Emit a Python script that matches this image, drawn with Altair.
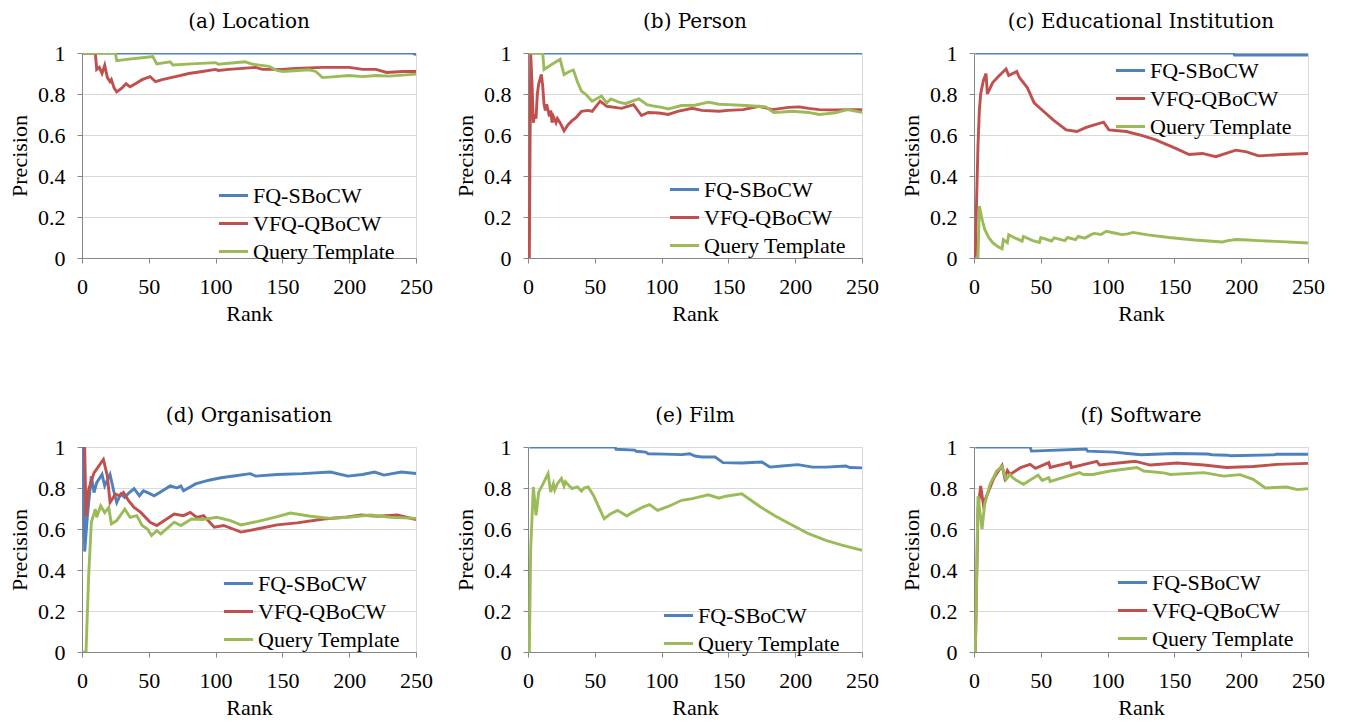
import altair as alt
import pandas as pd

SERIES = ["FQ-SBoCW", "VFQ-QBoCW", "Query Template"]
COLORS = ["#4F81BD", "#C0504D", "#9BBB59"]
TITLES = ["(a) Location", "(b) Person", "(c) Educational Institution",
          "(d) Organisation", "(e) Film", "(f) Software"]
X_TICKS = [0, 50, 100, 150, 200, 250]
Y_TICKS = [0, 0.2, 0.4, 0.6, 0.8, 1]

# (a) Location
A_FQ_RANK = [1, 247, 250]
A_FQ_PREC = [1, 1, 0.992]
A_VFQ_RANK = [1, 10, 11, 13, 15, 17, 19, 21, 22, 24, 26, 30, 33, 36, 40, 45, 51, 55, 60, 70, 80, 90, 100, 102, 110, 120, 130, 135, 150, 160, 180, 200, 210, 220, 228, 240, 250]
A_VFQ_PREC = [1, 1, 0.92, 0.93, 0.9, 0.94, 0.88, 0.86, 0.87, 0.83, 0.81, 0.83, 0.85, 0.835, 0.85, 0.87, 0.885, 0.86, 0.87, 0.885, 0.9, 0.91, 0.92, 0.915, 0.92, 0.925, 0.93, 0.92, 0.92, 0.925, 0.93, 0.93, 0.92, 0.92, 0.905, 0.91, 0.91]
A_QT_RANK = [1, 25, 26, 35, 45, 53, 56, 66, 68, 82, 100, 102, 122, 128, 140, 146, 150, 170, 175, 180, 190, 200, 210, 220, 230, 250]
A_QT_PREC = [1, 1, 0.963, 0.97, 0.977, 0.983, 0.947, 0.957, 0.942, 0.947, 0.953, 0.945, 0.957, 0.945, 0.935, 0.915, 0.91, 0.918, 0.91, 0.88, 0.885, 0.89, 0.885, 0.89, 0.887, 0.897]

# (b) Person
B_FQ_RANK = [1, 250]
B_FQ_PREC = [1, 1]
B_VFQ_RANK = [1, 2, 3, 4, 5, 6, 7, 8, 10, 11, 12, 13, 14, 16, 17, 18, 19, 21, 22, 24, 27, 30, 33, 36, 40, 45, 48, 54, 59, 65, 70, 79, 85, 90, 98, 105, 112, 123, 130, 143, 150, 161, 173, 183, 195, 203, 210, 218, 230, 240, 250]
B_VFQ_PREC = [0, 1, 0.85, 0.66, 0.7, 0.68, 0.8, 0.85, 0.895, 0.84, 0.75, 0.72, 0.75, 0.69, 0.72, 0.66, 0.69, 0.66, 0.68, 0.66, 0.62, 0.65, 0.67, 0.685, 0.715, 0.72, 0.715, 0.765, 0.74, 0.735, 0.73, 0.748, 0.695, 0.71, 0.707, 0.7, 0.715, 0.73, 0.72, 0.716, 0.72, 0.724, 0.74, 0.724, 0.735, 0.737, 0.73, 0.724, 0.722, 0.724, 0.724]
B_QT_RANK = [1, 11, 12, 18, 24, 27, 31, 34, 37, 40, 43, 48, 55, 59, 62, 68, 73, 78, 83, 89, 95, 100, 105, 115, 125, 135, 143, 150, 163, 178, 184, 190, 198, 210, 218, 230, 239, 250]
B_QT_PREC = [1, 1, 0.92, 0.945, 0.969, 0.895, 0.91, 0.917, 0.86, 0.814, 0.8, 0.765, 0.79, 0.757, 0.776, 0.76, 0.753, 0.765, 0.776, 0.748, 0.74, 0.735, 0.727, 0.744, 0.745, 0.76, 0.75, 0.748, 0.744, 0.737, 0.71, 0.712, 0.716, 0.71, 0.7, 0.708, 0.724, 0.71]

# (c) Educational Institution
C_FQ_RANK = [1, 194, 195, 250]
C_FQ_PREC = [1, 1, 0.99, 0.99]
C_VFQ_RANK = [1, 2, 3, 4, 5, 7, 9, 10, 14, 19, 24, 26, 32, 34, 40, 45, 52, 59, 69, 77, 84, 92, 97, 101, 114, 126, 136, 151, 161, 171, 181, 196, 204, 213, 231, 250]
C_VFQ_PREC = [0, 0.3, 0.55, 0.72, 0.8, 0.865, 0.9, 0.8, 0.856, 0.89, 0.922, 0.89, 0.91, 0.88, 0.83, 0.757, 0.716, 0.675, 0.625, 0.617, 0.637, 0.653, 0.663, 0.625, 0.617, 0.597, 0.576, 0.535, 0.505, 0.51, 0.494, 0.526, 0.518, 0.498, 0.505, 0.51]
C_QT_RANK = [1, 3, 4, 6, 8, 11, 14, 18, 21, 22, 25, 26, 30, 36, 37, 44, 49, 50, 58, 60, 68, 70, 76, 78, 83, 88, 90, 95, 99, 105, 111, 115, 119, 130, 146, 165, 186, 190, 196, 205, 213, 230, 250]
C_QT_PREC = [0, 0, 0.254, 0.19, 0.139, 0.1, 0.075, 0.055, 0.045, 0.09, 0.075, 0.114, 0.1, 0.082, 0.105, 0.085, 0.076, 0.1, 0.083, 0.098, 0.085, 0.1, 0.09, 0.105, 0.097, 0.115, 0.12, 0.115, 0.13, 0.122, 0.114, 0.118, 0.125, 0.113, 0.1, 0.088, 0.078, 0.085, 0.09, 0.088, 0.085, 0.08, 0.073]

# (d) Organisation
D_FQ_RANK = [1, 2, 4, 7, 9, 11, 15, 17, 21, 24, 26, 29, 32, 35, 39, 43, 46, 50, 54, 60, 66, 71, 74, 76, 85, 95, 104, 115, 126, 130, 146, 165, 186, 199, 210, 219, 226, 239, 250]
D_FQ_PREC = [1, 0.49, 0.66, 0.858, 0.778, 0.826, 0.866, 0.81, 0.866, 0.778, 0.729, 0.77, 0.754, 0.775, 0.797, 0.762, 0.786, 0.775, 0.762, 0.785, 0.81, 0.8, 0.81, 0.786, 0.82, 0.838, 0.85, 0.86, 0.87, 0.858, 0.866, 0.87, 0.878, 0.858, 0.866, 0.878, 0.863, 0.878, 0.871]
D_VFQ_RANK = [1, 2, 3, 5, 9, 16, 19, 21, 25, 28, 31, 35, 39, 44, 51, 56, 69, 76, 81, 86, 91, 99, 106, 119, 131, 146, 161, 181, 196, 209, 221, 236, 250]
D_VFQ_PREC = [1, 1, 0.66, 0.794, 0.874, 0.939, 0.858, 0.729, 0.77, 0.762, 0.778, 0.737, 0.705, 0.681, 0.633, 0.617, 0.673, 0.665, 0.681, 0.657, 0.665, 0.609, 0.617, 0.585, 0.6, 0.62, 0.63, 0.649, 0.657, 0.668, 0.662, 0.668, 0.646]
D_QT_RANK = [1, 3, 5, 7, 10, 11, 14, 17, 20, 22, 26, 32, 36, 41, 45, 49, 52, 56, 59, 69, 74, 82, 90, 101, 111, 119, 131, 144, 156, 171, 186, 199, 216, 231, 250]
D_QT_PREC = [0, 0, 0.375, 0.633, 0.697, 0.657, 0.713, 0.68, 0.705, 0.625, 0.641, 0.697, 0.657, 0.665, 0.617, 0.6, 0.568, 0.592, 0.576, 0.633, 0.617, 0.649, 0.646, 0.657, 0.641, 0.62, 0.636, 0.657, 0.678, 0.662, 0.652, 0.657, 0.668, 0.657, 0.652]

# (e) Film
E_FQ_RANK = [1, 65, 66, 80, 81, 88, 90, 102, 115, 121, 125, 130, 140, 146, 160, 175, 181, 190, 202, 213, 223, 238, 241, 250]
E_FQ_PREC = [1, 1, 0.989, 0.985, 0.979, 0.975, 0.967, 0.965, 0.963, 0.967, 0.956, 0.951, 0.951, 0.924, 0.922, 0.927, 0.902, 0.907, 0.914, 0.902, 0.902, 0.907, 0.9, 0.898]
E_QT_RANK = [1, 2, 4, 6, 8, 12, 15, 17, 19, 20, 22, 25, 27, 28, 31, 33, 37, 40, 42, 45, 49, 57, 62, 67, 74, 78, 86, 91, 97, 105, 115, 123, 135, 143, 148, 160, 173, 185, 198, 210, 223, 235, 250]
E_QT_PREC = [0, 0.5, 0.805, 0.667, 0.78, 0.83, 0.87, 0.78, 0.82, 0.79, 0.821, 0.846, 0.81, 0.83, 0.81, 0.797, 0.805, 0.785, 0.8, 0.805, 0.764, 0.65, 0.675, 0.691, 0.663, 0.68, 0.707, 0.719, 0.691, 0.71, 0.74, 0.748, 0.767, 0.75, 0.76, 0.772, 0.712, 0.663, 0.618, 0.577, 0.545, 0.521, 0.496]

# (f) Software
F_FQ_RANK = [1, 42, 43, 84, 85, 105, 115, 125, 150, 175, 178, 190, 192, 225, 226, 250]
F_FQ_PREC = [1, 1, 0.98, 0.99, 0.98, 0.975, 0.968, 0.962, 0.968, 0.966, 0.962, 0.96, 0.957, 0.962, 0.965, 0.965]
F_VFQ_RANK = [1, 3, 5, 7, 10, 15, 21, 23, 25, 27, 35, 42, 46, 56, 57, 72, 73, 92, 94, 117, 121, 132, 152, 172, 189, 209, 227, 250]
F_VFQ_PREC = [0, 0.7, 0.81, 0.72, 0.77, 0.85, 0.91, 0.85, 0.886, 0.866, 0.9, 0.915, 0.896, 0.924, 0.9, 0.924, 0.9, 0.93, 0.912, 0.928, 0.93, 0.912, 0.922, 0.912, 0.9, 0.905, 0.915, 0.92]
F_QT_RANK = [1, 3, 6, 8, 12, 17, 21, 24, 27, 29, 32, 37, 48, 51, 56, 57, 79, 82, 89, 102, 122, 127, 142, 147, 172, 187, 199, 209, 218, 234, 242, 250]
F_QT_PREC = [0, 0.76, 0.6, 0.72, 0.818, 0.883, 0.905, 0.842, 0.866, 0.85, 0.836, 0.818, 0.863, 0.837, 0.85, 0.832, 0.875, 0.866, 0.866, 0.883, 0.9, 0.883, 0.874, 0.866, 0.875, 0.858, 0.865, 0.842, 0.8, 0.805, 0.792, 0.797]

PANELS = [
    [(A_FQ_RANK, A_FQ_PREC), (A_VFQ_RANK, A_VFQ_PREC), (A_QT_RANK, A_QT_PREC)],
    [(B_FQ_RANK, B_FQ_PREC), (B_VFQ_RANK, B_VFQ_PREC), (B_QT_RANK, B_QT_PREC)],
    [(C_FQ_RANK, C_FQ_PREC), (C_VFQ_RANK, C_VFQ_PREC), (C_QT_RANK, C_QT_PREC)],
    [(D_FQ_RANK, D_FQ_PREC), (D_VFQ_RANK, D_VFQ_PREC), (D_QT_RANK, D_QT_PREC)],
    [(E_FQ_RANK, E_FQ_PREC), None, (E_QT_RANK, E_QT_PREC)],
    [(F_FQ_RANK, F_FQ_PREC), (F_VFQ_RANK, F_VFQ_PREC), (F_QT_RANK, F_QT_PREC)],
]
LEGEND_POS = [(135, 126), (140, 120), (140, 1), (140, 120), (134, 152), (142, 119)]

FONT = "Liberation Serif"
TITLE_FONT = "DejaVu Serif"
W, H = 334, 205


def panel(i):
    rows = []
    names, cols = [], []
    for s, pair in enumerate(PANELS[i]):
        if pair is None:
            continue
        names.append(SERIES[s])
        cols.append(COLORS[s])
        for r, p in zip(pair[0], pair[1]):
            rows.append({"Series": SERIES[s], "Order": s, "Rank": r, "Precision": p})
    df = pd.DataFrame(rows)
    lx, ly = LEGEND_POS[i]
    return alt.Chart(df).mark_line(strokeWidth=2.9, clip=True).encode(
        x=alt.X("Rank:Q", scale=alt.Scale(domain=[0, 250], nice=False),
                axis=alt.Axis(values=X_TICKS, grid=False, title="Rank",
                              labelFlush=False, labelPadding=13, titlePadding=6)),
        y=alt.Y("Precision:Q", scale=alt.Scale(domain=[0, 1], nice=False),
                axis=alt.Axis(values=Y_TICKS, format="~g", grid=True,
                              labelFlush=False, title="Precision",
                              labelPadding=12, titlePadding=6)),
        color=alt.Color("Series:N",
                        scale=alt.Scale(domain=names, range=cols),
                        legend=alt.Legend(orient="none", legendX=lx, legendY=ly,
                                          title=None, symbolType="stroke",
                                          symbolSize=850, symbolStrokeWidth=3,
                                          labelFont=FONT, labelFontSize=22,
                                          labelColor="black", rowPadding=-7,
                                          labelOffset=3)),
        detail="Order:O",
    ).properties(
        width=W, height=H,
        title=alt.TitleParams(TITLES[i], font=TITLE_FONT, fontSize=20,
                              fontWeight="normal", color="black", offset=10),
    )


row1 = alt.hconcat(panel(0), panel(1), panel(2), spacing=21).resolve_scale(
    color="independent").resolve_legend(color="independent")
row2 = alt.hconcat(panel(3), panel(4), panel(5), spacing=21).resolve_scale(
    color="independent").resolve_legend(color="independent")
chart = alt.vconcat(row1, row2, spacing=80).resolve_scale(
    color="independent").resolve_legend(color="independent").configure_axis(
    labelFont=FONT, titleFont=FONT, labelFontSize=22, titleFontSize=22,
    titleFontWeight="normal", labelColor="black", titleColor="black",
    domainColor="#868686", tickColor="#868686", tickSize=5,
    gridColor="#d9d9d9",
).configure_view(stroke="#d9d9d9").properties(
    padding={"top": 3, "left": 0, "right": 0, "bottom": 0})

chart.save("out.html", embed_options={"renderer": "svg", "actions": False})
